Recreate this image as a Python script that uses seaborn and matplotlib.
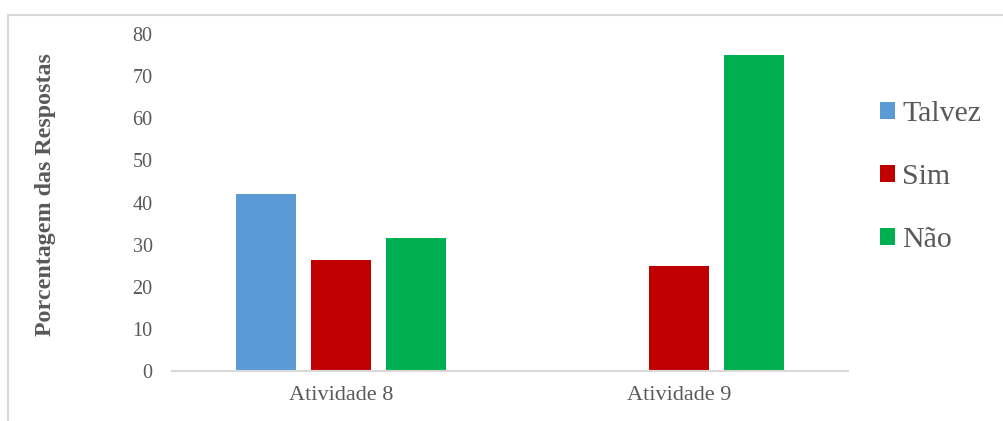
import matplotlib
matplotlib.use("Agg")
import matplotlib.pyplot as plt
from matplotlib.patches import Rectangle, Patch
import pandas as pd
import seaborn as sns

atividades = ["Atividade 8", "Atividade 9"]
respostas = ["Talvez", "Sim", "Não"]
talvez = [42.1, 0.0]
sim = [26.3, 25.0]
nao = [31.6, 75.0]
cores = ["#5B9BD5", "#C00000", "#00B050"]
yticks = [0, 10, 20, 30, 40, 50, 60, 70, 80]

sns.set_style("white")
plt.rcParams["font.family"] = ["Liberation Serif", "DejaVu Serif"]

texto = "#595959"
linha = "#D9D9D9"

df = pd.DataFrame({
    "Atividade": atividades * 3,
    "Resposta": [r for r in respostas for _ in atividades],
    "Porcentagem": talvez + sim + nao,
})

W, H = 1004, 421
fig = plt.figure(figsize=(W / 100, H / 100), dpi=100)
ax = fig.add_axes([172 / W, 1 - 371 / H, (848 - 172) / W, (371 - 34) / H])

sns.barplot(data=df, x="Atividade", y="Porcentagem", hue="Resposta",
            hue_order=respostas, palette=cores, saturation=1,
            width=0.666, gap=0.21, linewidth=0, errorbar=None, ax=ax,
            legend=False)

ax.set_xlim(-0.5, 1.5)
ax.set_ylim(0, 80)
ax.set_yticks(yticks)
ax.set_yticklabels([str(v) for v in yticks])
ax.set_xlabel("")
ax.set_ylabel("")
for s in ["top", "right", "left"]:
    ax.spines[s].set_visible(False)
ax.spines["bottom"].set_color(linha)
ax.spines["bottom"].set_linewidth(1.5)
ax.tick_params(axis="y", length=0, pad=14, labelsize=14.5, labelcolor=texto)
ax.tick_params(axis="x", length=0, pad=11, labelsize=16, labelcolor=texto)

fig.text(46 / W, 1 - 195 / H, "Porcentagem das Respostas", rotation=90,
         ha="center", va="center", fontsize=17.3, fontweight="bold",
         color=texto)

handles = [Patch(facecolor=c, edgecolor="none") for c in cores]
fig.legend(handles, respostas, loc="center left",
           bbox_to_anchor=(880 / W, 1 - 177 / H), frameon=False,
           fontsize=21.5, labelcolor=texto, handlelength=0.5,
           handleheight=0.5, handletextpad=0.25, labelspacing=1.25,
           borderpad=0, borderaxespad=0)

# chart area outline (extends past the lower and right edges)
fig.patches.append(Rectangle((8 / W, -0.1), 1.1, 1 - 15 / H + 0.1,
                             transform=fig.transFigure, fill=False,
                             edgecolor=linha, linewidth=1.5))

fig.savefig("out.png", dpi=100)
